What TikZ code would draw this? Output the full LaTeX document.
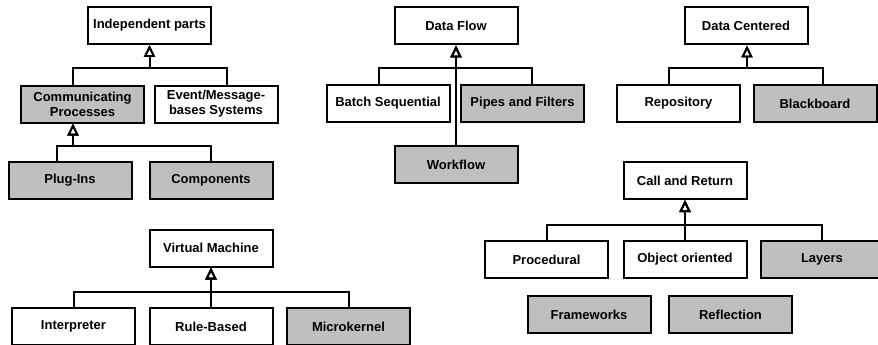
\documentclass[tikz,border=0pt]{standalone}
\usepackage{fontspec}
\setmainfont{Liberation Sans}
\usetikzlibrary{arrows.meta}
\begin{document}
\begin{tikzpicture}[x=1pt,y=-1pt,
  box/.style={draw=black,line width=2pt,minimum width=123pt,minimum height=37pt,
    inner sep=0pt,align=center,font=\fontsize{13}{15}\selectfont\bfseries,fill=white},
  grey/.style={box,fill=black!25},
  link/.style={draw=black,line width=2pt,
    -{Triangle[open,length=12pt,width=11pt,line width=1.8pt]}}]
\clip (0,0) rectangle (878,345);
\fill[white] (0,0) rectangle (878,345);

% Independent parts
\node[box]  (ind)  at (149.5,25.5) {Independent parts};
\node[grey] (cp)   at (82.5,104)   {Communicating\\Processes};
\node[box]  (evt)  at (216,104)    {Event/Message-\\bases Systems};
\node[grey] (plug) at (70,180.5)   {Plug-Ins};
\node[grey] (comp) at (211,180.5)  {Components};
\draw[link] ([xshift=-9.5pt]cp.north) -- ++(0,-16.5) -| (ind.south);
\draw[link] ([xshift=11pt]evt.north) -- ++(0,-16.5) -| (ind.south);
\draw[link] ([xshift=-13pt]plug.north) -- ++(0,-15) -| ([xshift=-9.5pt]cp.south);
\draw[link] (comp.north) -- ++(0,-15) -| ([xshift=-9.5pt]cp.south);

% Data Flow
\node[box]  (df)    at (456,26)     {Data Flow};
\node[box]  (batch) at (388,103.5)  {Batch Sequential};
\node[grey] (pipes) at (522.5,103.5){Pipes and Filters};
\node[grey] (wf)    at (456,164.5)  {Workflow};
\draw[link] ([xshift=-9pt]batch.north) -- ++(0,-16) -| (df.south);
\draw[link] ([xshift=9.5pt]pipes.north) -- ++(0,-16) -| (df.south);
\draw[link] (wf.north) -- (df.south);

% Data Centered
\node[box]  (dc)   at (746,26)      {Data Centered};
\node[box]  (repo) at (678.5,103.5) {Repository};
\node[grey] (bb)   at (815,103.5)   {Blackboard};
\draw[link] ([xshift=-9.5pt]repo.north) -- ++(0,-16) -| ([xshift=1pt]dc.south);
\draw[link] ([xshift=8pt]bb.north) -- ++(0,-16) -| ([xshift=1pt]dc.south);

% Call and Return
\node[box]  (cr)     at (685,180.5)   {Call and Return};
\node[box]  (proc)   at (546.5,259.5) {Procedural};
\node[box]  (oo)     at (685,259.5)   {Object oriented};
\node[grey] (layers) at (822,259.5)   {Layers};
\node[grey] (fw)     at (589,314.5)   {Frameworks};
\node[grey] (refl)   at (730.5,314.5) {Reflection};
\draw[link] (proc.north) -- ++(0,-15) -| (cr.south);
\draw[link] (layers.north) -- ++(0,-15) -| (cr.south);
\draw[link] (oo.north) -- (cr.south);

% Virtual Machine
\node[box]  (vm)     at (211,248)     {Virtual Machine};
\node[box]  (interp) at (73.5,326.5)  {Interpreter};
\node[box]  (rule)   at (211,326.5)   {Rule-Based};
\node[grey] (micro)  at (348.5,326.5) {Microkernel};
\draw[link] (interp.north) -- ++(0,-15) -| (vm.south);
\draw[link] (micro.north) -- ++(0,-15) -| (vm.south);
\draw[link] (rule.north) -- (vm.south);
\end{tikzpicture}
\end{document}
